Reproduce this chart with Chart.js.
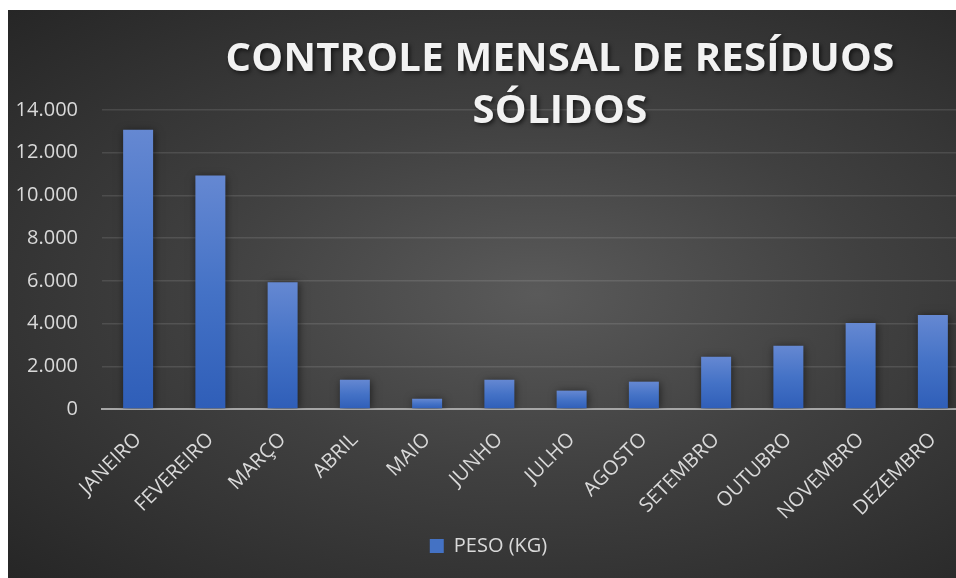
<!DOCTYPE html>
<html lang="pt-BR">
<head>
<meta charset="utf-8">
<title>Controle mensal de resíduos sólidos</title>
<script src="https://cdn.jsdelivr.net/npm/chart.js@4.4.1/dist/chart.umd.min.js"></script>
<style>
    html, body { margin: 0; padding: 0; background: #fff; overflow: hidden; }
    body { width: 956px; height: 578px; position: relative; }
    #painel {
        position: absolute; left: 8px; top: 10px; width: 961px; height: 568px;
        background: radial-gradient(ellipse at 55% 50%, #5a5a5a 0%, #404040 45%, #262626 100%);
    }
    #titulo {
        position: absolute; left: 152px; top: 20px; width: 800px;
        text-align: center; color: #f2f2f2;
        font: bold 40px "Open Sans", sans-serif; line-height: 52px; letter-spacing: 0.25px;
        text-shadow: 2px 2px 4px rgba(0, 0, 0, 0.6);
        pointer-events: none;
    }
    #grafico { position: absolute; left: 0; top: 0; }
</style>
</head>
<body>
<div id="painel">
    <canvas id="grafico" width="961" height="568"></canvas>
    <div id="titulo">CONTROLE MENSAL DE RESÍDUOS<br>SÓLIDOS</div>
</div>
<script>
// dados
const meses = ['JANEIRO', 'FEVEREIRO', 'MARÇO', 'ABRIL', 'MAIO', 'JUNHO',
    'JULHO', 'AGOSTO', 'SETEMBRO', 'OUTUBRO', 'NOVEMBRO', 'DEZEMBRO'];
const pesoKg = [13080, 10930, 5940, 1370, 480, 1370, 860, 1280, 2450, 2960, 4030, 4400];
const serieNome = 'PESO (KG)';
const eixoY = { min: 0, max: 14000, passo: 2000 };

const corTexto = '#d9d9d9';
const fonte = { family: '"Open Sans", sans-serif', size: 20 };

// gradiente por barra (claro em cima, escuro embaixo)
function corBarra(ctx) {
    const chart = ctx.chart;
    if (!chart.chartArea || ctx.raw === undefined) return '#4472c4';
    const y = chart.scales.y;
    const topo = y.getPixelForValue(ctx.raw);
    const base = y.getPixelForValue(0);
    if (!isFinite(topo) || !isFinite(base) || topo === base) return '#4472c4';
    const g = chart.ctx.createLinearGradient(0, topo, 0, base);
    g.addColorStop(0, '#6588d2');
    g.addColorStop(0.5, '#4472c6');
    g.addColorStop(1, '#2f5eb8');
    return g;
}

// sombra leve nas barras
const sombra = {
    id: 'sombra',
    beforeDatasetsDraw(chart) {
        const c = chart.ctx;
        c.save();
        c.shadowColor = 'rgba(0, 0, 0, 0.55)';
        c.shadowBlur = 8;
        c.shadowOffsetX = 1;
        c.shadowOffsetY = 1;
    },
    afterDatasetsDraw(chart) {
        chart.ctx.restore();
    }
};

new Chart(document.getElementById('grafico').getContext('2d'), {
    type: 'bar',
    data: {
        labels: meses,
        datasets: [{
            label: serieNome,
            data: pesoKg,
            backgroundColor: corBarra,
            borderWidth: 0,
            categoryPercentage: 1,
            barPercentage: 0.415
        }]
    },
    options: {
        responsive: false,
        animation: false,
        layout: { padding: { top: 100, right: 0, bottom: 12, left: 0 } },
        plugins: {
            title: { display: false },
            tooltip: { enabled: false },
            legend: {
                position: 'bottom',
                labels: {
                    color: corTexto, font: fonte,
                    boxWidth: 14, boxHeight: 14, padding: 10,
                    generateLabels(chart) {
                        return [{ text: serieNome, fillStyle: '#4472c4', strokeStyle: '#4472c4',
                            lineWidth: 0, fontColor: corTexto, datasetIndex: 0 }];
                    }
                }
            }
        },
        scales: {
            x: {
                grid: { display: false, drawTicks: false },
                border: { display: true, color: '#a6a6a6', width: 2 },
                ticks: { color: corTexto, font: fonte, minRotation: 45, maxRotation: 45, padding: 19 },
                afterFit(scale) { scale.height = 117; }
            },
            y: {
                min: eixoY.min, max: eixoY.max,
                grid: { color: 'rgba(255, 255, 255, 0.11)', lineWidth: 1.5, drawTicks: false },
                border: { display: false },
                ticks: {
                    stepSize: eixoY.passo, color: corTexto, font: fonte, padding: 24,
                    callback: v => v.toLocaleString('pt-BR')
                },
                afterFit(scale) { scale.width = 94; }
            }
        }
    },
    plugins: [sombra]
});
</script>
</body>
</html>
